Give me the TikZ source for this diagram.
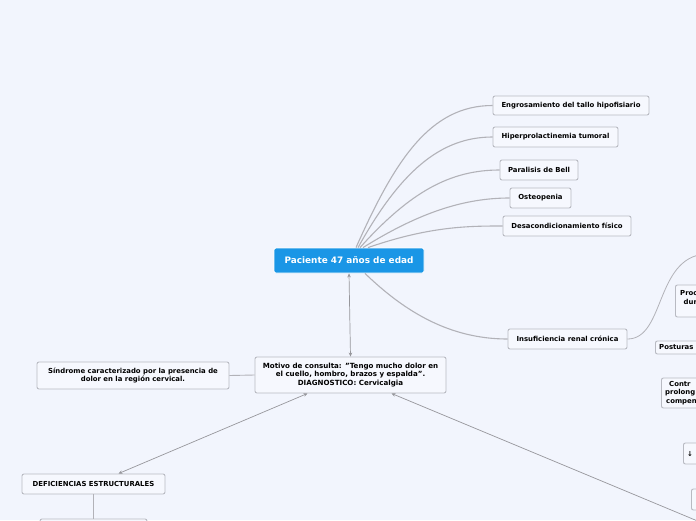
\documentclass[tikz,border=0pt]{standalone}
\usepackage{fontspec}
\setmainfont{DejaVu Sans}
\usetikzlibrary{arrows.meta,calc}
\definecolor{fondo}{RGB}{242,245,253}
\definecolor{caja}{RGB}{246,248,254}
\definecolor{borde}{RGB}{184,186,194}
\definecolor{rama}{RGB}{178,178,184}
\definecolor{azul}{RGB}{26,150,230}
\tikzset{
  tema/.style={rectangle,rounded corners=2pt,fill=azul,draw=white,line width=0.8pt,
    text=white,font=\fontsize{8.9}{10}\selectfont\bfseries,inner sep=0pt},
  hoja/.style={rectangle,rounded corners=2pt,fill=caja,draw=borde,line width=0.9pt,
    font=\fontsize{6.9}{8.2}\selectfont\bfseries,align=center,inner sep=0pt},
  rama/.style={draw=rama,line width=1.1pt},
  flecha/.style={draw=rama!85!black,line width=0.7pt,{Stealth[length=4pt,width=3.5pt]}-{Stealth[length=4pt,width=3.5pt]}},
  letra/.style={font=\fontsize{6.9}{8.6}\selectfont\bfseries,align=center,inner sep=0pt}
}
\begin{document}
\begin{tikzpicture}[x=1pt,y=-1pt]
\fill[fondo] (0,0) rectangle (696,520);
\useasboundingbox (0,0) rectangle (696,520);
\clip (0,0) rectangle (696,520);

% tema central
\node[tema,minimum width=150pt,minimum height=25pt] (pac) at (349,260.5) {Paciente 47 años de edad};

% ramas de arriba
\node[hoja,minimum width=156pt,minimum height=19pt] (eng) at (571,105.5) {Engrosamiento del tallo hipofisiario};
\node[hoja,minimum width=125pt,minimum height=20pt] (hip) at (555.5,137) {Hiperprolactinemia tumoral};
\node[hoja,minimum width=78pt,minimum height=20pt] (par) at (539,170) {Paralisis de Bell};
\node[hoja,minimum width=61pt,minimum height=20pt] (ost) at (540.5,198) {Osteopenia};
\node[hoja,minimum width=128pt,minimum height=20pt] (des) at (567,226) {Desacondicionamiento físico};
\node[hoja,minimum width=119pt,minimum height=20pt] (ins) at (567.5,339) {Insuficiencia renal crónica};

\draw[rama] ([xshift=7pt]pac.north) .. controls (395,160) and (430,105.5) .. (eng.west);
\draw[rama] ([xshift=9pt]pac.north) .. controls (400,172) and (440,137) .. (hip.west);
\draw[rama] ([xshift=11pt]pac.north) .. controls (410,192) and (450,170) .. (par.west);
\draw[rama] ([xshift=14pt]pac.north) .. controls (420,212) and (465,198) .. (ost.west);
\draw[rama] ([xshift=19pt]pac.north) .. controls (430,226) and (470,226) .. (des.west);
\draw[rama] ([xshift=16pt]pac.south) .. controls (405,312) and (450,339) .. (ins.west);

% motivo de consulta
\node[hoja,minimum width=191pt,minimum height=36pt,font=\fontsize{7.1}{8.4}\selectfont\bfseries] (mot) at (350.5,375)
  {Motivo de consulta: "Tengo mucho dolor en\\ el cuello, hombro, brazos y espalda".\\ DIAGNOSTICO: Cervicalgia};
\node[hoja,minimum width=192pt,minimum height=27pt] (sin) at (133,375.5)
  {Síndrome caracterizado por la presencia de\\ dolor en la región cervical.};
\node[hoja,minimum width=143pt,minimum height=20pt] (def) at (93.5,484) {DEFICIENCIAS ESTRUCTURALES};
\node[hoja,minimum width=107pt,minimum height=20pt] (sub) at (93.5,529) {};

\draw[flecha] (pac.south) -- (mot.north);
\draw[rama,line width=0.9pt] (mot.west) -- (sin.east);
\draw[flecha] ([xshift=-43pt]mot.south) -- ([xshift=25pt]def.north);
\draw[rama,line width=0.9pt] (def.south) -- (sub.north);
\coordinate (fin) at (700,522);
\draw[flecha,-{Stealth[length=4pt,width=3.5pt]}] (fin) -- ([xshift=41pt]mot.south);

% nodos de la derecha (cortados por el borde)
\coordinate (arriba) at (705,254);
\draw[rama,line width=0.8pt] (ins.east) .. controls (665,339) and (655,258) .. (arriba);
\node[hoja,minimum width=60pt,minimum height=32pt,anchor=west] (pro) at (675,301) {};
\node[letra,anchor=west] (prot) at (680,297.5) {Proc\\\hspace*{3pt}dur};
\node[hoja,minimum width=60pt,minimum height=13pt,anchor=west] (pos) at (655,347.5) {};
\node[letra,anchor=west] (post) at (659,347.5) {Posturas};
\node[hoja,minimum width=60pt,minimum height=30pt,anchor=west] (con) at (661,393) {};
\node[letra,anchor=west,align=left] (cont) at (665,393) {\hspace*{4pt}Contr\\prolong\\\hspace*{1pt}compen};
\node[hoja,minimum width=40pt,minimum height=21pt,anchor=west] (baj) at (683,453.5) {};
\node[letra,anchor=west] (bajt) at (687,453.5) {↓};
\node[hoja,minimum width=40pt,minimum height=21pt,anchor=west] (ult) at (691,499.5) {};
\end{tikzpicture}
\end{document}
